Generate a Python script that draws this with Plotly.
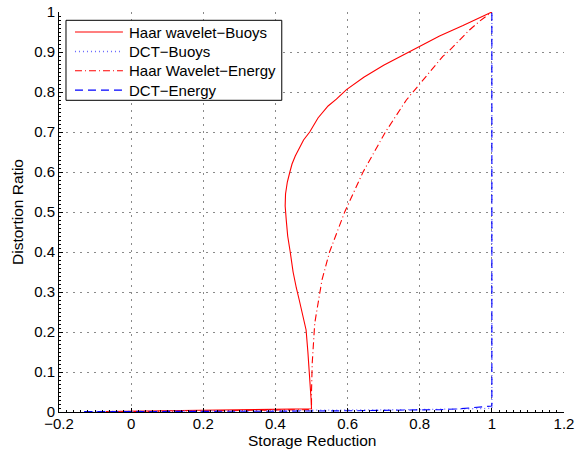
import plotly.graph_objects as go

# ---- data ----
haar_buoys_x = [-0.07, 0.1, 0.2, 0.3, 0.4, 0.5, 0.499, 0.497, 0.494, 0.49, 0.485, 0.476, 0.466,
                0.458, 0.449, 0.441, 0.434, 0.43, 0.427, 0.428, 0.433, 0.44, 0.446, 0.455,
                0.466, 0.478, 0.495, 0.518, 0.546, 0.569, 0.597, 0.645, 0.70, 0.76,
                0.80, 0.855, 0.92, 0.96, 1.0]
haar_buoys_y = [0.001, 0.003, 0.004, 0.005, 0.006, 0.008, 0.03, 0.06, 0.1, 0.15, 0.205, 0.245, 0.28,
                0.31, 0.35, 0.40, 0.44, 0.48, 0.515, 0.545, 0.575, 0.60, 0.62, 0.64,
                0.66, 0.68, 0.70, 0.735, 0.765, 0.782, 0.806, 0.837, 0.867, 0.896,
                0.915, 0.94, 0.966, 0.982, 1.0]

dct_buoys_x = [-0.13, 0.0, 0.2, 0.4, 0.6, 0.8, 0.9, 0.97, 1.0, 1.0]
dct_buoys_y = [0.001, 0.002, 0.003, 0.004, 0.005, 0.006, 0.007, 0.008, 0.009, 1.0]

haar_energy_x = [-0.07, 0.1, 0.3, 0.5, 0.5, 0.502, 0.509, 0.523, 0.529, 0.55, 0.57, 0.592,
                 0.643, 0.705, 0.763, 0.814, 0.864, 0.878, 0.938, 0.966, 1.0]
haar_energy_y = [0.0, 0.002, 0.004, 0.006, 0.05, 0.122, 0.222, 0.3, 0.33, 0.4, 0.45, 0.5,
                 0.6, 0.7, 0.78, 0.834, 0.889, 0.9, 0.955, 0.977, 1.0]

dct_energy_x = [-0.13, 0.0, 0.2, 0.4, 0.6, 0.8, 0.86, 0.91, 0.97, 0.995, 1.0, 1.0]
dct_energy_y = [0.001, 0.001, 0.002, 0.002, 0.003, 0.004, 0.006, 0.008, 0.012, 0.014, 0.015, 1.0]

series_names = ["Haar wavelet\u2212Buoys", "DCT\u2212Buoys",
                "Haar Wavelet\u2212Energy", "DCT\u2212Energy"]

x_title = "Storage Reduction"
y_title = "Distortion Ratio"

FONT = "Liberation Sans, Arial, Helvetica, sans-serif"
RED = "#ff0000"
BLUE = "#0000ff"

styles = [
    dict(color=RED, width=1.1),
    dict(color="#6b6bff", width=1.3, dash="1px,3px"),
    dict(color=RED, width=1.1, dash="7px,3px,1px,3px"),
    dict(color=BLUE, width=1.1, dash="8px,5px"),
]
series = [(haar_buoys_x, haar_buoys_y), (dct_buoys_x, dct_buoys_y),
          (haar_energy_x, haar_energy_y), (dct_energy_x, dct_energy_y)]

fig = go.Figure()
for (xs, ys), name, st in zip(series, series_names, styles):
    fig.add_trace(go.Scatter(x=xs, y=ys, mode="lines", name=name, line=st, showlegend=False))

axis_common = dict(
    showline=True, linecolor="black", linewidth=1, mirror=False,
    ticks="inside", ticklen=4, tickcolor="black", tickwidth=1,
    showgrid=True, gridcolor="#8a8a8a", griddash="2px,5px", gridwidth=1,
    zeroline=False, automargin=False,
    tickfont=dict(family=FONT, size=15, color="black"),
)

fig.update_xaxes(range=[-0.2, 1.2], dtick=0.2, tick0=-0.2, ticklabelstandoff=-2,
                 minor=dict(dtick=0.02, ticks="inside", ticklen=2, tickcolor="black", showgrid=False),
                 **axis_common)
fig.update_yaxes(range=[0, 1], dtick=0.1, tick0=0,
                 minor=dict(dtick=0.01, ticks="inside", ticklen=2, tickcolor="black", showgrid=False),
                 title=dict(text=y_title, font=dict(family=FONT, size=15.5, color="black"), standoff=6),
                 **axis_common)

# ---- legend drawn in the plot area (pixel layout of the reference) ----
L, R, T, B = 59, 564.5, 11.7, 411.7
W, H = R - L, B - T
px = lambda v: (v - L) / W
py = lambda v: (B - v) / H

shapes = [dict(type="rect", xref="paper", yref="paper",
               x0=px(66), x1=px(282), y0=py(100), y1=py(20),
               line=dict(color="black", width=1), fillcolor="white", layer="above")]
annotations = []
row_y = [31.7, 51.2, 70.5, 89.8]
for name, st, ry in zip(series_names, styles, row_y):
    shapes.append(dict(type="line", xref="paper", yref="paper",
                       x0=px(75), x1=px(123), y0=py(ry), y1=py(ry),
                       line=st, layer="above"))
    annotations.append(dict(xref="paper", yref="paper", x=px(127), y=py(ry),
                            xanchor="left", yanchor="middle", showarrow=False,
                            text=name, font=dict(family=FONT, size=15, color="black")))

# x-axis title
annotations.append(dict(xref="paper", yref="paper", x=0.5, y=py(440.5),
                        xanchor="center", yanchor="middle", showarrow=False,
                        text=x_title, font=dict(family=FONT, size=15.5, color="black")))

fig.update_layout(
    width=577, height=454,
    margin=dict(l=L, r=577 - R, t=T, b=454 - B),
    paper_bgcolor="white", plot_bgcolor="white",
    font=dict(family=FONT, size=15, color="black"),
    showlegend=False,
    shapes=shapes, annotations=annotations,
)

fig.write_html("out.html",
               config={"displayModeBar": False},
               post_script="document.body.style.margin='0';document.body.style.overflow='hidden';")
